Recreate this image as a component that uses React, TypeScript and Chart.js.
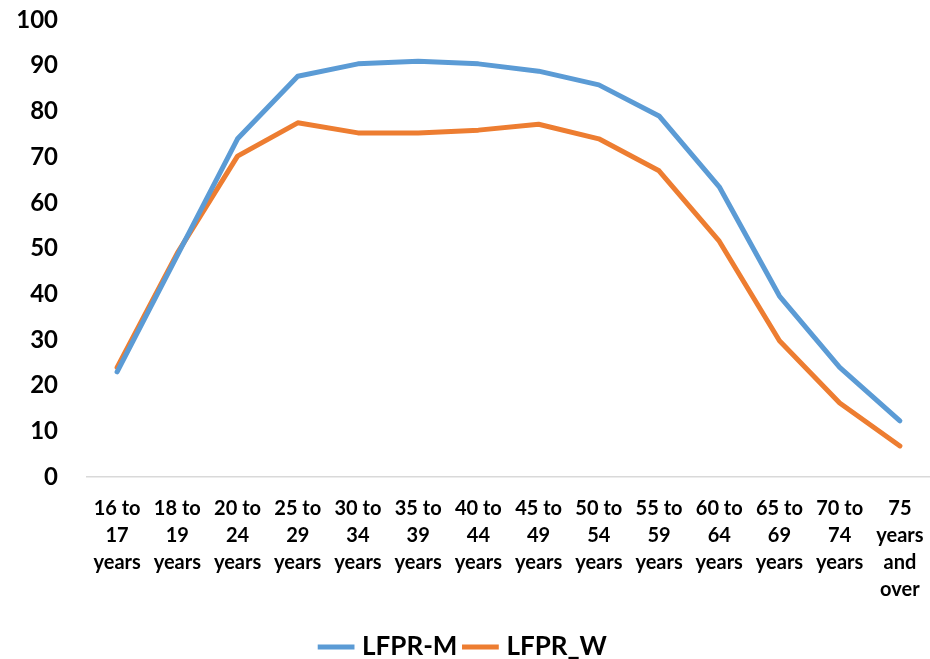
import React, { useEffect, useRef } from "react";
import { Chart, registerables } from "chart.js";

Chart.register(...registerables);

const categories: string[][] = [
  ["16 to", "17", "years"],
  ["18 to", "19", "years"],
  ["20 to", "24", "years"],
  ["25 to", "29", "years"],
  ["30 to", "34", "years"],
  ["35 to", "39", "years"],
  ["40 to", "44", "years"],
  ["45 to", "49", "years"],
  ["50 to", "54", "years"],
  ["55 to", "59", "years"],
  ["60 to", "64", "years"],
  ["65 to", "69", "years"],
  ["70 to", "74", "years"],
  ["75", "years", "and", "over"],
];

const lfprM: number[] = [23, 48.5, 74, 87.7, 90.4, 91, 90.4, 88.8, 85.8, 79, 63.5, 39.6, 24, 12.3];
const lfprW: number[] = [24, 49, 70.2, 77.5, 75.3, 75.3, 75.9, 77.2, 74, 67, 51.6, 29.8, 16.2, 6.8];

const yMin = 0;
const yMax = 100;
const yStep = 10;

const FONT = "Lato, 'Open Sans', 'DejaVu Sans', sans-serif";

export default function App() {
  const ref = useRef<HTMLCanvasElement | null>(null);

  useEffect(() => {
    document.body.style.margin = "0";
    const canvas = ref.current;
    if (!canvas) return;
    const chart = new Chart(canvas, {
      type: "line",
      data: {
        labels: categories,
        datasets: [
          {
            label: "LFPR-M",
            data: lfprM,
            borderColor: "#5B9BD5",
            backgroundColor: "#5B9BD5",
            borderWidth: 5,
            pointRadius: 0,
            tension: 0,
            borderCapStyle: "round",
            borderJoinStyle: "round",
          },
          {
            label: "LFPR_W",
            data: lfprW,
            borderColor: "#ED7D31",
            backgroundColor: "#ED7D31",
            borderWidth: 5,
            pointRadius: 0,
            tension: 0,
            borderCapStyle: "round",
            borderJoinStyle: "round",
          },
        ],
      },
      options: {
        animation: false,
        responsive: false,
        maintainAspectRatio: false,
        layout: { padding: { top: 20, right: 0, left: 0, bottom: -11 } },
        plugins: {
          tooltip: { enabled: false },
          legend: {
            position: "bottom",
            labels: {
              usePointStyle: true,
              pointStyle: "line",
              boxWidth: 52,
              padding: 10,
              color: "#000",
              font: { family: FONT, size: 26, weight: "bold" },
            },
          },
        },
        scales: {
          x: {
            offset: true,
            grid: { display: false, drawTicks: false, offset: true },
            border: { display: true, color: "#d9d9d9", width: 1.5 },
            ticks: {
              color: "#000",
              maxRotation: 0,
              autoSkip: false,
              padding: 18,
              font: { family: FONT, size: 20, weight: "bold", lineHeight: 1.35 },
            },
            afterFit: (scale: any) => {
              scale.height = 147;
              scale.paddingLeft = 0;
              scale.paddingRight = 0;
            },
          },
          y: {
            min: yMin,
            max: yMax,
            grid: { display: false, drawTicks: false },
            border: { display: false },
            ticks: {
              stepSize: yStep,
              color: "#000",
              padding: 29,
              font: { family: FONT, size: 24, weight: "bold" },
            },
            afterFit: (scale: any) => {
              scale.width = 87;
              scale.paddingTop = 0;
              scale.paddingBottom = 0;
            },
          },
        },
      },
    });
    return () => chart.destroy();
  }, []);

  return (
    <div style={{ width: 930, height: 659 }}>
      <canvas ref={ref} width={930} height={659} style={{ display: "block" }} />
    </div>
  );
}
